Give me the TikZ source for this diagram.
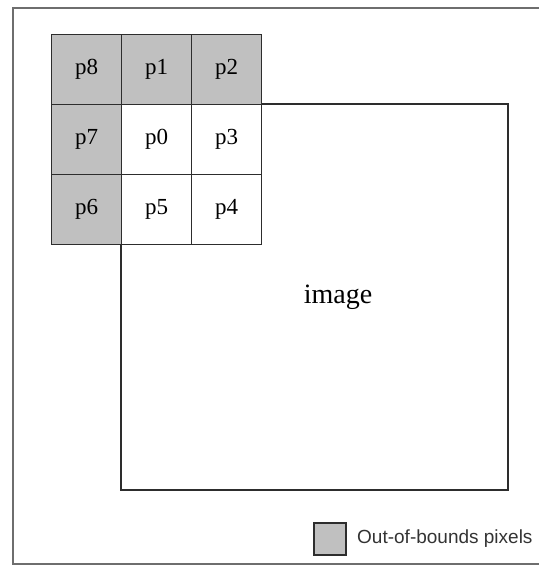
\documentclass[tikz,border=0pt]{standalone}
\usepackage{fontspec}
\setmainfont{Liberation Serif}
\newfontfamily\legendfont{Liberation Sans}
\definecolor{oob}{RGB}{192,192,192}
\definecolor{gridline}{RGB}{45,45,45}
\definecolor{frameline}{RGB}{110,110,110}
\begin{document}
\begin{tikzpicture}[x=1pt,y=-1pt,
  cell/.style={draw=gridline,line width=1.4pt,minimum size=70pt,inner sep=0pt,anchor=north west,font=\fontsize{23}{23}\selectfont},
  outcell/.style={cell,fill=oob},
  incell/.style={cell,fill=white},
  framestyle/.style={draw=frameline,line width=2pt}]
\useasboundingbox (0,0) rectangle (539,566);
% outer frame (open on the right)
\draw[framestyle] (539,8) -- (13,8) -- (13,564) -- (539,564);
% image region
\draw[draw=gridline,line width=1.4pt] (121,104) rectangle (508,490);
\node[font=\fontsize{28}{28}\selectfont] (imglabel) at (338,297) {image};
% 3x3 neighbourhood
\node[outcell] (p8) at (51,34) {p8};
\node[outcell] (p1) at (121,34) {p1};
\node[outcell] (p2) at (191,34) {p2};
\node[outcell] (p7) at (51,104) {p7};
\node[incell] (p0) at (121,104) {p0};
\node[incell] (p3) at (191,104) {p3};
\node[outcell] (p6) at (51,174) {p6};
\node[incell] (p5) at (121,174) {p5};
\node[incell] (p4) at (191,174) {p4};
% legend
\node[draw=gridline,line width=1.2pt,fill=oob,minimum size=32pt,inner sep=0pt] (legbox) at (330,539) {};
\node[anchor=west,font=\legendfont\fontsize{19}{19}\selectfont,text=black!80,inner sep=0pt] (legtext) at (357,539) {Out-of-bounds pixels};
\end{tikzpicture}
\end{document}
